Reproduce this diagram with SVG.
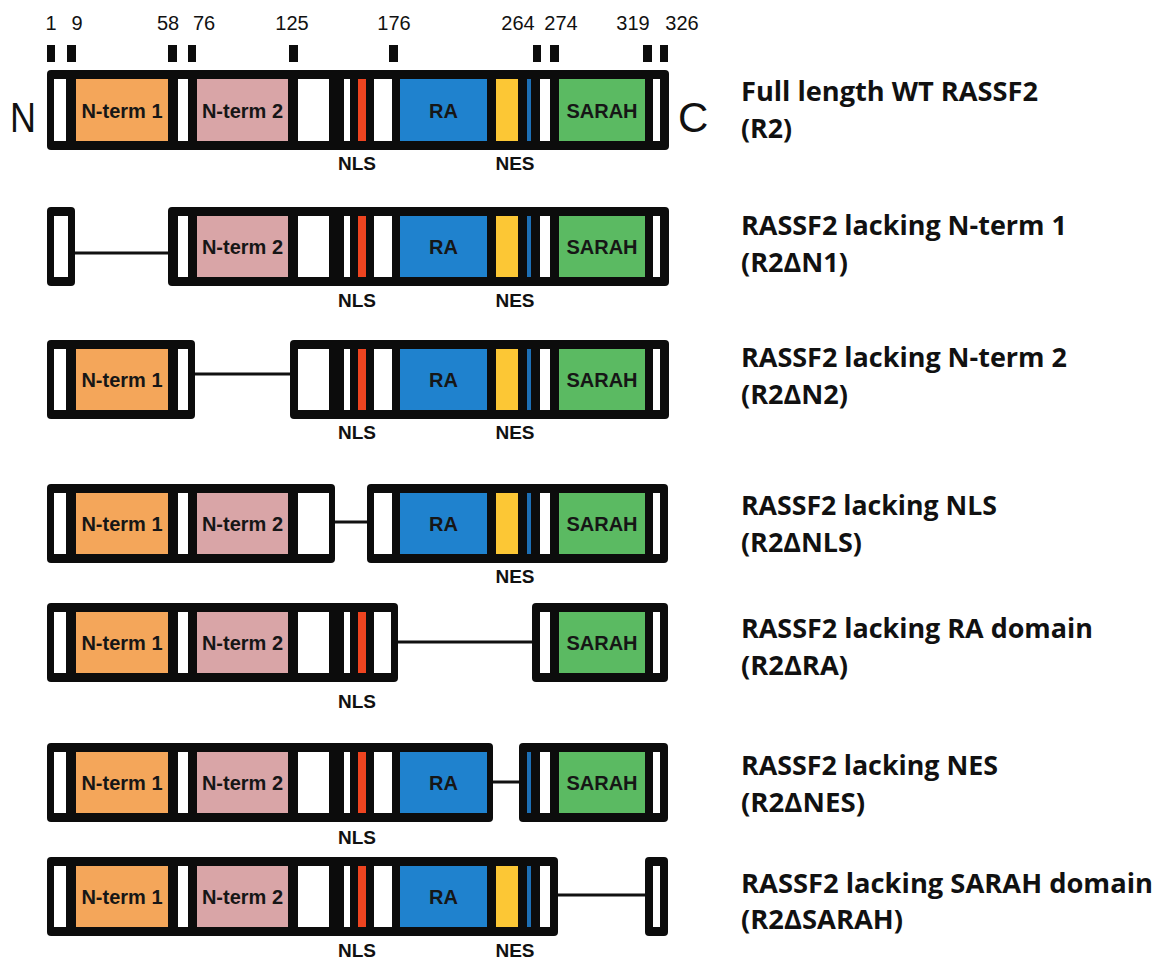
<svg xmlns="http://www.w3.org/2000/svg" width="1155" height="959" viewBox="0 0 1155 959">
<style>
.frame{fill:#0c0c0c}
.w{fill:#ffffff}
.o{fill:#F4A65A}
.p{fill:#D9A5A7}
.b{fill:#1F82CE}
.y{fill:#FCC735}
.r{fill:#EE4420}
.g{fill:#5BBA62}
.bt{fill:#1D6FB5}
.tick{fill:#0c0c0c}
.lbl{font-family:"Liberation Sans",Arial,sans-serif;font-weight:bold;font-size:20px;fill:#161616;text-anchor:middle}
.sm{font-family:"Liberation Sans",Arial,sans-serif;font-weight:bold;font-size:19px;fill:#111;text-anchor:middle}
.num{font-family:"Liberation Sans",Arial,sans-serif;font-size:20px;fill:#111;text-anchor:middle}
.end{font-family:"Liberation Sans",Arial,sans-serif;font-size:42px;fill:#111}
.name{font-family:"Open Sans","Liberation Sans",sans-serif;font-weight:bold;font-size:26px;fill:#111}
.conn{stroke:#111;stroke-width:3;fill:none}
</style>

<g id="scale">
  <rect class="tick" x="47" y="45" width="8" height="17"/>
  <rect class="tick" x="67" y="45" width="9" height="17"/>
  <rect class="tick" x="168" y="45" width="9" height="17"/>
  <rect class="tick" x="188" y="45" width="8" height="17"/>
  <rect class="tick" x="289" y="45" width="9" height="17"/>
  <rect class="tick" x="389" y="45" width="9" height="17"/>
  <rect class="tick" x="533" y="45" width="8" height="17"/>
  <rect class="tick" x="550" y="45" width="9" height="17"/>
  <rect class="tick" x="643" y="45" width="9" height="17"/>
  <rect class="tick" x="660" y="45" width="8" height="17"/>
  <text class="num" x="51" y="30">1</text>
  <text class="num" x="77" y="30">9</text>
  <text class="num" x="168" y="30">58</text>
  <text class="num" x="204" y="30">76</text>
  <text class="num" x="292" y="30">125</text>
  <text class="num" x="394" y="30">176</text>
  <text class="num" x="518" y="30">264</text>
  <text class="num" x="561" y="30">274</text>
  <text class="num" x="633" y="30">319</text>
  <text class="num" x="682" y="30">326</text>
  <text class="end" x="10" y="132" textLength="26" lengthAdjust="spacingAndGlyphs">N</text>
  <text class="end" x="678" y="132">C</text>
</g>

<g id="connectors">
  <line class="conn" x1="75" y1="253" x2="168" y2="253"/>
  <line class="conn" x1="195" y1="374" x2="290" y2="374"/>
  <line class="conn" x1="335" y1="522" x2="367" y2="522"/>
  <line class="conn" x1="398" y1="642" x2="532" y2="642"/>
  <line class="conn" x1="493" y1="782" x2="519" y2="782"/>
  <line class="conn" x1="558" y1="895" x2="645" y2="895"/>
</g>

<!-- Row 1: full length -->
<g id="row1" transform="translate(0,70)">
  <rect class="frame" x="47" y="0" width="622" height="80" rx="4"/>
  <rect class="w" x="54" y="9" width="12" height="62"/>
  <rect class="o" x="76" y="9" width="92" height="62"/>
  <rect class="w" x="178" y="9" width="10" height="62"/>
  <rect class="p" x="197" y="9" width="91" height="62"/>
  <rect class="w" x="298" y="9" width="31" height="62"/>
  <rect class="w" x="344" y="9" width="6" height="62"/>
  <rect class="r" x="358" y="9" width="8" height="62"/>
  <rect class="w" x="374" y="9" width="18" height="62"/>
  <rect class="b" x="400" y="9" width="87" height="62"/>
  <rect class="y" x="496" y="9" width="22" height="62"/>
  <rect class="bt" x="527" y="9" width="4" height="62"/>
  <rect class="w" x="540" y="9" width="10" height="62"/>
  <rect class="g" x="559" y="9" width="86" height="62"/>
  <rect class="w" x="653" y="9" width="7" height="62"/>
  <text class="lbl" x="122" y="48">N-term 1</text>
  <text class="lbl" x="242.5" y="48">N-term 2</text>
  <text class="lbl" x="443.5" y="48">RA</text>
  <text class="lbl" x="602" y="48">SARAH</text>
  <text class="sm" x="357" y="100">NLS</text>
  <text class="sm" x="515" y="100">NES</text>
  <text class="name" x="741" y="31" textLength="297" lengthAdjust="spacingAndGlyphs">Full length WT RASSF2</text>
  <text class="name" x="741" y="68" textLength="51" lengthAdjust="spacingAndGlyphs">(R2)</text>
</g>

<!-- Row 2: lacking N-term 1 -->
<g id="row2" transform="translate(0,207)">
  <rect class="frame" x="47" y="0" width="28" height="79" rx="4"/>
  <rect class="w" x="54" y="9" width="14" height="61"/>
  <rect class="frame" x="168" y="0" width="501" height="79" rx="4"/>
  <rect class="w" x="178" y="9" width="10" height="61"/>
  <rect class="p" x="197" y="9" width="91" height="61"/>
  <rect class="w" x="298" y="9" width="31" height="61"/>
  <rect class="w" x="344" y="9" width="6" height="61"/>
  <rect class="r" x="358" y="9" width="8" height="61"/>
  <rect class="w" x="374" y="9" width="18" height="61"/>
  <rect class="b" x="400" y="9" width="87" height="61"/>
  <rect class="y" x="496" y="9" width="22" height="61"/>
  <rect class="bt" x="527" y="9" width="4" height="61"/>
  <rect class="w" x="540" y="9" width="10" height="61"/>
  <rect class="g" x="559" y="9" width="86" height="61"/>
  <rect class="w" x="653" y="9" width="7" height="61"/>
  <text class="lbl" x="242.5" y="47">N-term 2</text>
  <text class="lbl" x="443.5" y="47">RA</text>
  <text class="lbl" x="602" y="47">SARAH</text>
  <text class="sm" x="357" y="100">NLS</text>
  <text class="sm" x="515" y="100">NES</text>
  <text class="name" x="741" y="28" textLength="326" lengthAdjust="spacingAndGlyphs">RASSF2 lacking N-term 1</text>
  <text class="name" x="741" y="65" textLength="107" lengthAdjust="spacingAndGlyphs">(R2ΔN1)</text>
</g>

<!-- Row 3: lacking N-term 2 -->
<g id="row3" transform="translate(0,340)">
  <rect class="frame" x="47" y="0" width="148" height="79" rx="4"/>
  <rect class="w" x="54" y="9" width="12" height="61"/>
  <rect class="o" x="76" y="9" width="92" height="61"/>
  <rect class="w" x="178" y="9" width="10" height="61"/>
  <rect class="frame" x="290" y="0" width="379" height="79" rx="4"/>
  <rect class="w" x="298" y="9" width="31" height="61"/>
  <rect class="w" x="344" y="9" width="6" height="61"/>
  <rect class="r" x="358" y="9" width="8" height="61"/>
  <rect class="w" x="374" y="9" width="18" height="61"/>
  <rect class="b" x="400" y="9" width="87" height="61"/>
  <rect class="y" x="496" y="9" width="22" height="61"/>
  <rect class="bt" x="527" y="9" width="4" height="61"/>
  <rect class="w" x="540" y="9" width="10" height="61"/>
  <rect class="g" x="559" y="9" width="86" height="61"/>
  <rect class="w" x="653" y="9" width="7" height="61"/>
  <text class="lbl" x="122" y="47">N-term 1</text>
  <text class="lbl" x="443.5" y="47">RA</text>
  <text class="lbl" x="602" y="47">SARAH</text>
  <text class="sm" x="357" y="99">NLS</text>
  <text class="sm" x="515" y="99">NES</text>
  <text class="name" x="741" y="27" textLength="326" lengthAdjust="spacingAndGlyphs">RASSF2 lacking N-term 2</text>
  <text class="name" x="741" y="64" textLength="107" lengthAdjust="spacingAndGlyphs">(R2ΔN2)</text>
</g>

<!-- Row 4: lacking NLS -->
<g id="row4" transform="translate(0,484)">
  <rect class="frame" x="47" y="0" width="288" height="79" rx="4"/>
  <rect class="w" x="54" y="9" width="12" height="61"/>
  <rect class="o" x="76" y="9" width="92" height="61"/>
  <rect class="w" x="178" y="9" width="10" height="61"/>
  <rect class="p" x="197" y="9" width="91" height="61"/>
  <rect class="w" x="298" y="9" width="31" height="61"/>
  <rect class="frame" x="367" y="0" width="301" height="79" rx="4"/>
  <rect class="w" x="374" y="9" width="18" height="61"/>
  <rect class="b" x="400" y="9" width="87" height="61"/>
  <rect class="y" x="496" y="9" width="22" height="61"/>
  <rect class="bt" x="527" y="9" width="4" height="61"/>
  <rect class="w" x="540" y="9" width="10" height="61"/>
  <rect class="g" x="559" y="9" width="86" height="61"/>
  <rect class="w" x="653" y="9" width="7" height="61"/>
  <text class="lbl" x="122" y="47">N-term 1</text>
  <text class="lbl" x="242.5" y="47">N-term 2</text>
  <text class="lbl" x="443.5" y="47">RA</text>
  <text class="lbl" x="602" y="47">SARAH</text>
  <text class="sm" x="515" y="99">NES</text>
  <text class="name" x="741" y="31" textLength="256" lengthAdjust="spacingAndGlyphs">RASSF2 lacking NLS</text>
  <text class="name" x="741" y="68" textLength="121" lengthAdjust="spacingAndGlyphs">(R2ΔNLS)</text>
</g>

<!-- Row 5: lacking RA -->
<g id="row5" transform="translate(0,603)">
  <rect class="frame" x="47" y="0" width="351" height="79" rx="4"/>
  <rect class="w" x="54" y="9" width="12" height="61"/>
  <rect class="o" x="76" y="9" width="92" height="61"/>
  <rect class="w" x="178" y="9" width="10" height="61"/>
  <rect class="p" x="197" y="9" width="91" height="61"/>
  <rect class="w" x="298" y="9" width="31" height="61"/>
  <rect class="w" x="344" y="9" width="6" height="61"/>
  <rect class="r" x="358" y="9" width="8" height="61"/>
  <rect class="w" x="374" y="9" width="17" height="61"/>
  <rect class="frame" x="532" y="0" width="136" height="79" rx="4"/>
  <rect class="w" x="540" y="9" width="10" height="61"/>
  <rect class="g" x="559" y="9" width="86" height="61"/>
  <rect class="w" x="653" y="9" width="7" height="61"/>
  <text class="lbl" x="122" y="47">N-term 1</text>
  <text class="lbl" x="242.5" y="47">N-term 2</text>
  <text class="lbl" x="602" y="47">SARAH</text>
  <text class="sm" x="357" y="105">NLS</text>
  <text class="name" x="741" y="35" textLength="352" lengthAdjust="spacingAndGlyphs">RASSF2 lacking RA domain</text>
  <text class="name" x="741" y="72" textLength="107" lengthAdjust="spacingAndGlyphs">(R2ΔRA)</text>
</g>

<!-- Row 6: lacking NES -->
<g id="row6" transform="translate(0,743)">
  <rect class="frame" x="47" y="0" width="446" height="79" rx="4"/>
  <rect class="w" x="54" y="9" width="12" height="61"/>
  <rect class="o" x="76" y="9" width="92" height="61"/>
  <rect class="w" x="178" y="9" width="10" height="61"/>
  <rect class="p" x="197" y="9" width="91" height="61"/>
  <rect class="w" x="298" y="9" width="31" height="61"/>
  <rect class="w" x="344" y="9" width="6" height="61"/>
  <rect class="r" x="358" y="9" width="8" height="61"/>
  <rect class="w" x="374" y="9" width="18" height="61"/>
  <rect class="b" x="400" y="9" width="87" height="61"/>
  <rect class="frame" x="519" y="0" width="149" height="79" rx="4"/>
  <rect class="bt" x="527" y="9" width="4" height="61"/>
  <rect class="w" x="540" y="9" width="10" height="61"/>
  <rect class="g" x="559" y="9" width="86" height="61"/>
  <rect class="w" x="653" y="9" width="7" height="61"/>
  <text class="lbl" x="122" y="47">N-term 1</text>
  <text class="lbl" x="242.5" y="47">N-term 2</text>
  <text class="lbl" x="443.5" y="47">RA</text>
  <text class="lbl" x="602" y="47">SARAH</text>
  <text class="sm" x="357" y="101">NLS</text>
  <text class="name" x="741" y="32" textLength="257" lengthAdjust="spacingAndGlyphs">RASSF2 lacking NES</text>
  <text class="name" x="741" y="69" textLength="124" lengthAdjust="spacingAndGlyphs">(R2ΔNES)</text>
</g>

<!-- Row 7: lacking SARAH -->
<g id="row7" transform="translate(0,857)">
  <rect class="frame" x="47" y="0" width="511" height="79" rx="4"/>
  <rect class="w" x="54" y="9" width="12" height="61"/>
  <rect class="o" x="76" y="9" width="92" height="61"/>
  <rect class="w" x="178" y="9" width="10" height="61"/>
  <rect class="p" x="197" y="9" width="91" height="61"/>
  <rect class="w" x="298" y="9" width="31" height="61"/>
  <rect class="w" x="344" y="9" width="6" height="61"/>
  <rect class="r" x="358" y="9" width="8" height="61"/>
  <rect class="w" x="374" y="9" width="18" height="61"/>
  <rect class="b" x="400" y="9" width="87" height="61"/>
  <rect class="y" x="496" y="9" width="22" height="61"/>
  <rect class="bt" x="527" y="9" width="4" height="61"/>
  <rect class="w" x="540" y="9" width="10" height="61"/>
  <rect class="frame" x="645" y="0" width="23" height="79" rx="4"/>
  <rect class="w" x="653" y="9" width="7" height="61"/>
  <text class="lbl" x="122" y="47">N-term 1</text>
  <text class="lbl" x="242.5" y="47">N-term 2</text>
  <text class="lbl" x="443.5" y="47">RA</text>
  <text class="sm" x="357" y="100">NLS</text>
  <text class="sm" x="515" y="100">NES</text>
  <text class="name" x="741" y="36" textLength="412" lengthAdjust="spacingAndGlyphs">RASSF2 lacking SARAH domain</text>
  <text class="name" x="741" y="72" textLength="162" lengthAdjust="spacingAndGlyphs">(R2ΔSARAH)</text>
</g>
</svg>
